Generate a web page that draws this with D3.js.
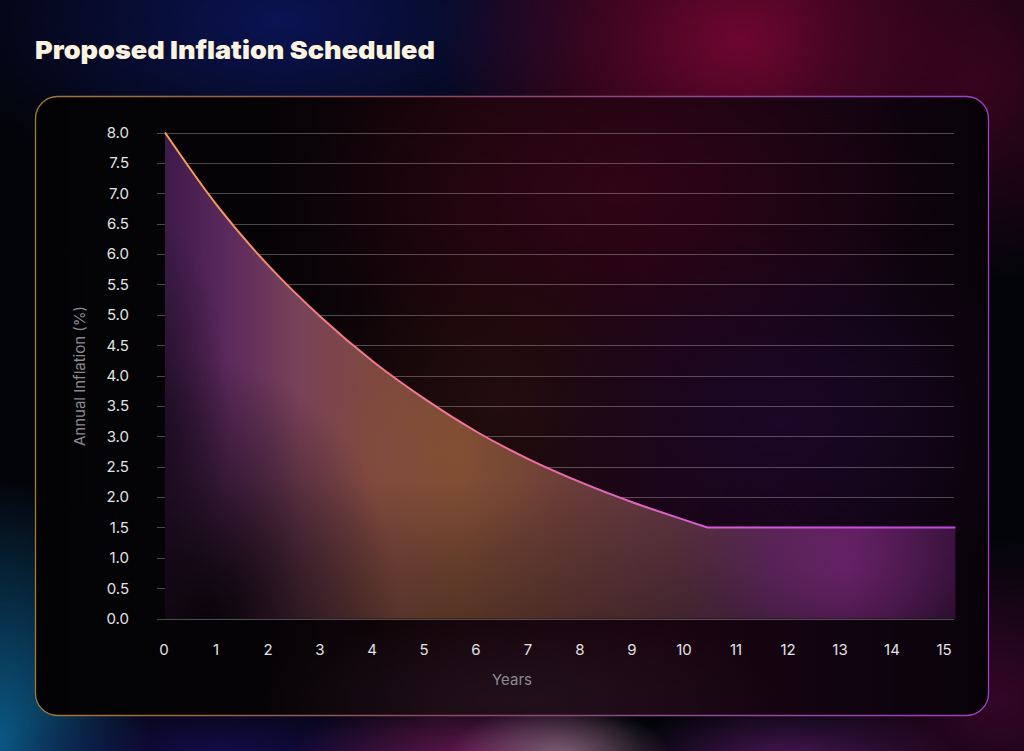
<!DOCTYPE html>
<html><head><meta charset="utf-8">
<script src="https://cdn.jsdelivr.net/npm/d3@7"></script>
<style>html,body{margin:0;padding:0;background:#04050c;overflow:hidden}svg{display:block}</style>
</head><body>
<svg id="c" width="1024" height="751"></svg>
<script>
const decayYears = [0, 1, 2, 3, 4, 5, 6, 7, 8, 9, 10, 10.43];
const decayValues = [8.0, 6.80, 5.80, 4.96, 4.23, 3.61, 3.07, 2.62, 2.24, 1.91, 1.62, 1.5];
const plateauYears = [10.43, 15.2];
const plateauValues = [1.5, 1.5];
const xTicks = [0,1,2,3,4,5,6,7,8,9,10,11,12,13,14,15];
const yTicks = [0,0.5,1,1.5,2,2.5,3,3.5,4,4.5,5,5.5,6,6.5,7,7.5,8];
const titleText = "Proposed Inflation Scheduled";
const xLabel = "Years";
const yLabel = "Annual Inflation (%)";

const svg = d3.select("#c");
const defs = svg.append("defs");
const W = 1024, H = 751;

function radial(id, color, op) {
  const g = defs.append("radialGradient").attr("id", id);
  g.append("stop").attr("offset","0%").attr("stop-color",color).attr("stop-opacity",op);
  g.append("stop").attr("offset","55%").attr("stop-color",color).attr("stop-opacity",op*0.45);
  g.append("stop").attr("offset","100%").attr("stop-color",color).attr("stop-opacity",0);
  return "url(#"+id+")";
}

// background
svg.append("rect").attr("width",W).attr("height",H).attr("fill","#03040a");
const blobs = [
  {cx:280, cy:20, rx:340, ry:170, c:"#0c1660", o:0.85},
  {cx:740, cy:40, rx:300, ry:230, c:"#6e0630", o:1},
  {cx:980, cy:80, rx:200, ry:200, c:"#3a0420", o:0.9},
  {cx:1000, cy:700, rx:180, ry:160, c:"#40062e", o:0.8},
  {cx:0, cy:740, rx:150, ry:260, c:"#0c5c8a", o:0.95},
  {cx:220, cy:760, rx:220, ry:70, c:"#1a0e60", o:0.8},
  {cx:470, cy:760, rx:180, ry:70, c:"#701a5a", o:0.9},
  {cx:560, cy:755, rx:110, ry:50, c:"#9a8090", o:0.7},
  {cx:790, cy:760, rx:170, ry:60, c:"#5a1a66", o:0.8}
];
svg.append("g").selectAll("ellipse").data(blobs).join("ellipse")
  .attr("cx",d=>d.cx).attr("cy",d=>d.cy).attr("rx",d=>d.rx).attr("ry",d=>d.ry)
  .attr("fill",(d,i)=>radial("bg"+i, d.c, d.o));

// title
svg.append("text").attr("x",35).attr("y",59).text(titleText)
  .attr("font-family","Inter, 'Noto Sans', sans-serif").attr("font-weight",900)
  .attr("font-size",25).attr("fill","#fbf3df")
  .attr("textLength",400).attr("lengthAdjust","spacingAndGlyphs");

// panel
const panel = {x:35.5, y:96.5, w:953, h:619, r:22};
const borderGrad = defs.append("linearGradient").attr("id","border")
  .attr("gradientUnits","userSpaceOnUse").attr("x1",35).attr("y1",400).attr("x2",989).attr("y2",400);
borderGrad.append("stop").attr("offset","0%").attr("stop-color","#a47a2e");
borderGrad.append("stop").attr("offset","40%").attr("stop-color","#8a4a60");
borderGrad.append("stop").attr("offset","100%").attr("stop-color","#a040c8");

const panelGrad = defs.append("linearGradient").attr("id","panelbg")
  .attr("gradientUnits","userSpaceOnUse").attr("x1",35).attr("y1",0).attr("x2",989).attr("y2",0);
[["0%","#030306"],["25%","#060306"],["45%","#16050a"],["65%","#1a0410"],["85%","#100410"],["100%","#080208"]]
  .forEach(s=>panelGrad.append("stop").attr("offset",s[0]).attr("stop-color",s[1]));
svg.append("rect").attr("x",panel.x).attr("y",panel.y).attr("width",panel.w).attr("height",panel.h)
  .attr("rx",panel.r).attr("fill","url(#panelbg)");

const clip = defs.append("clipPath").attr("id","panelclip");
clip.append("rect").attr("x",panel.x).attr("y",panel.y).attr("width",panel.w).attr("height",panel.h).attr("rx",panel.r);
const pg = svg.append("g").attr("clip-path","url(#panelclip)");
pg.append("ellipse").attr("cx",620).attr("cy",190).attr("rx",320).attr("ry",200).attr("fill",radial("gR","#3a0418",0.7));
pg.append("ellipse").attr("cx",500).attr("cy",400).attr("rx",180).attr("ry",160).attr("fill",radial("gB","#2a120e",0.6));
pg.append("ellipse").attr("cx",780).attr("cy",420).attr("rx",260).attr("ry",200).attr("fill",radial("gP","#1e0830",0.7));
pg.append("ellipse").attr("cx",520).attr("cy",700).attr("rx",260).attr("ry",90).attr("fill",radial("gBot","#281828",0.6));

// scales
const x = d3.scaleLinear().domain([0,15]).range([165,945]);
const y = d3.scaleLinear().domain([0,8]).range([618.5,132.5]);

// gridlines
svg.append("g").selectAll("line").data(yTicks).join("line")
  .attr("x1",157).attr("x2",954)
  .attr("y1",d=>Math.round(y(d))+0.5).attr("y2",d=>Math.round(y(d))+0.5)
  .attr("stroke","#ffffff").attr("stroke-opacity",0.28).attr("stroke-width",1);

// line & area paths
const decayLine = d3.line().x((d,i)=>x(decayYears[i])).y(d=>y(d)).curve(d3.curveMonotoneX);
const decayPath = decayLine(decayValues);
const plateauPath = plateauValues.map((v,i)=>"L"+x(plateauYears[i])+","+y(v)).join("");
const fullLine = decayPath + plateauPath;
const areaPath = fullLine + "L" + x(plateauYears[plateauYears.length-1]) + "," + y(0) +
                 "L" + x(decayYears[0]) + "," + y(0) + "Z";

// area gradient
const ag = defs.append("linearGradient").attr("id","areaGrad")
  .attr("gradientUnits","userSpaceOnUse").attr("x1",165).attr("y1",0).attr("x2",956).attr("y2",0);
[[165,"#3e1a4a"],[230,"#5c2a5c"],[300,"#7a4258"],[370,"#7e4840"],[460,"#7a4a34"],[560,"#6c3e38"],
 [680,"#5e3442"],[760,"#5c2a58"],[850,"#642264"],[956,"#401544"]]
  .forEach(s=>ag.append("stop").attr("offset",((s[0]-165)/(956-165)*100)+"%").attr("stop-color",s[1]));

svg.append("path").attr("d",areaPath).attr("fill","url(#areaGrad)");

// dark overlays inside area
const aclip = defs.append("clipPath").attr("id","areaclip");
aclip.append("path").attr("d",areaPath);
const ao = svg.append("g").attr("clip-path","url(#areaclip)");
ao.append("ellipse").attr("cx",210).attr("cy",620).attr("rx",190).attr("ry",260).attr("fill",radial("dk1","#050204",0.9));
ao.append("ellipse").attr("cx",160).attr("cy",420).attr("rx",70).attr("ry",200).attr("fill",radial("dk2","#050204",0.5));
const vg = defs.append("linearGradient").attr("id","vdark").attr("x1",0).attr("y1",0).attr("x2",0).attr("y2",1);
vg.append("stop").attr("offset","0%").attr("stop-color","#000").attr("stop-opacity",0);
vg.append("stop").attr("offset","100%").attr("stop-color","#000").attr("stop-opacity",0.3);
ao.append("rect").attr("x",160).attr("y",480).attr("width",800).attr("height",140).attr("fill","url(#vdark)");
ao.append("ellipse").attr("cx",840).attr("cy",570).attr("rx",130).attr("ry",80).attr("fill",radial("mg","#8a2a8a",0.35));
ao.append("ellipse").attr("cx",450).attr("cy",450).attr("rx",120).attr("ry",110).attr("fill",radial("og","#9a6030",0.25));

// line
const lg = defs.append("linearGradient").attr("id","lineGrad")
  .attr("gradientUnits","userSpaceOnUse").attr("x1",165).attr("y1",0).attr("x2",956).attr("y2",0);
[["0%","#f5a540"],["22%","#f27a88"],["45%","#f070a8"],["68%","#dc5ad8"],["100%","#c844e0"]]
  .forEach(s=>lg.append("stop").attr("offset",s[0]).attr("stop-color",s[1]));
svg.append("path").attr("d",fullLine).attr("fill","none")
  .attr("stroke","url(#lineGrad)").attr("stroke-width",2);

// y tick labels
svg.append("g").selectAll("text").data(yTicks).join("text")
  .attr("x",129).attr("y",d=>y(d)).attr("dy","0.36em").attr("text-anchor","end")
  .attr("font-family","Inter, 'Noto Sans', sans-serif").attr("font-size",15)
  .attr("fill","#e2e2e4").text(d=>d3.format(".1f")(d));

// x tick labels
svg.append("g").selectAll("text").data(xTicks).join("text")
  .attr("x",d=>x(d)-1).attr("y",650).attr("dy","0.36em").attr("text-anchor","middle")
  .attr("font-family","Inter, 'Noto Sans', sans-serif").attr("font-size",15)
  .attr("fill","#e2e2e4").text(d=>d);

// axis titles
svg.append("text").attr("x",512).attr("y",680).attr("dy","0.36em").attr("text-anchor","middle")
  .attr("font-family","Inter, 'Noto Sans', sans-serif").attr("font-size",15)
  .attr("fill","#8c8a90").text(xLabel);
svg.append("text").attr("transform","translate(80,376) rotate(-90)").attr("dy","0.36em")
  .attr("text-anchor","middle")
  .attr("font-family","Inter, 'Noto Sans', sans-serif").attr("font-size",15)
  .attr("fill","#8c8a90").text(yLabel);

// panel border on top
svg.append("rect").attr("x",panel.x).attr("y",panel.y).attr("width",panel.w).attr("height",panel.h)
  .attr("rx",panel.r).attr("fill","none").attr("stroke","url(#border)").attr("stroke-width",1.3);
</script>
</body></html>
